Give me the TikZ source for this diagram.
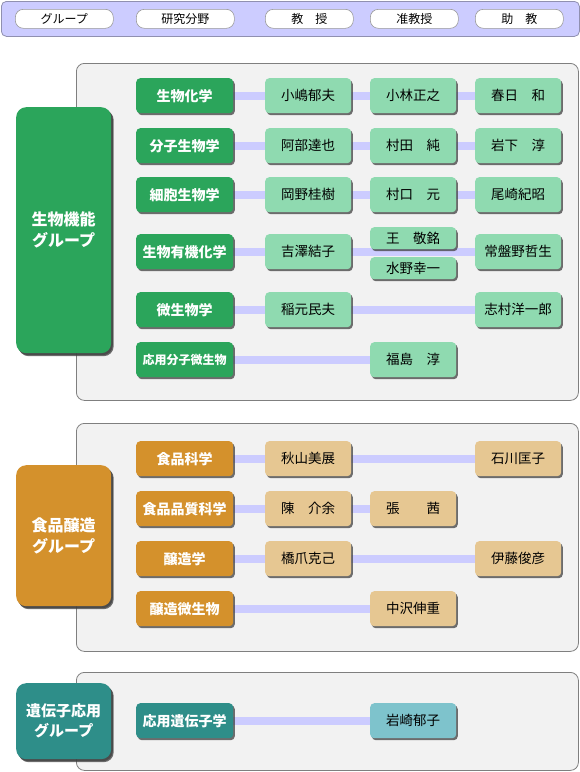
\documentclass[tikz,border=0pt]{standalone}
\usepackage{fontspec}
\setmainfont{Noto Sans CJK JP}
\usetikzlibrary{shadows}
\definecolor{gDark}{HTML}{2BA55B}
\definecolor{gLight}{HTML}{8FDAB0}
\definecolor{oDark}{HTML}{D4912C}
\definecolor{oLight}{HTML}{E6C792}
\definecolor{tDark}{HTML}{2E8E89}
\definecolor{tLight}{HTML}{7EC3CC}
\definecolor{connC}{HTML}{CCCCFF}
\definecolor{panelF}{HTML}{F2F2F2}
\definecolor{panelD}{HTML}{7F7F7F}
\definecolor{barF}{HTML}{CCCCFF}
\definecolor{barD}{HTML}{9090B0}
\pgfdeclarelayer{bg}
\pgfdeclarelayer{cn}
\pgfsetlayers{bg,cn,main}
\begin{document}
\begin{tikzpicture}[x=1pt,y=-1pt,
  box/.style={rounded corners=4pt, inner sep=0pt, anchor=north west,
    drop shadow={shadow xshift=1.6pt, shadow yshift=-2pt, opacity=0.75, fill=black!75}},
  fieldbox/.style={box, minimum width=97pt, minimum height=35pt, text=white,
    font=\fontsize{14}{16}\selectfont\bfseries},
  namebox/.style={box, minimum width=86pt, minimum height=35pt,
    font=\fontsize{13.5}{16}\selectfont},
  smallname/.style={namebox, minimum height=22pt},
  groupbox/.style={box, rounded corners=10pt, minimum width=95pt, text=white,
    align=center, font=\fontsize{16}{21}\selectfont\bfseries,
    drop shadow={shadow xshift=2.5pt, shadow yshift=-3pt, opacity=0.75, fill=black!75}},
  panel/.style={draw=panelD, fill=panelF, line width=0.8pt, rounded corners=8pt,
    anchor=north west, inner sep=0pt},
  pill/.style={draw=gray!80, fill=white, line width=0.6pt, rounded corners=8pt,
    anchor=north west, inner sep=0pt, minimum height=19pt,
    font=\fontsize{12}{14}\selectfont},
  conn/.style={draw=connC, line width=8pt},
  gF/.style={fieldbox, fill=gDark}, gN/.style={namebox, fill=gLight},
  oF/.style={fieldbox, fill=oDark}, oN/.style={namebox, fill=oLight},
  tF/.style={fieldbox, fill=tDark}, tN/.style={namebox, fill=tLight}
]
\useasboundingbox (0,0) rectangle (580,772);

% panels and background
\begin{pgfonlayer}{bg}
\fill[white] (0,0) rectangle (580,772);
\node[panel, minimum width=502pt, minimum height=337pt] (pan1) at (76,63) {};
\node[panel, minimum width=502pt, minimum height=228pt] (pan2) at (76,423) {};
\node[panel, minimum width=502pt, minimum height=98pt] (pan3) at (76,672) {};
\end{pgfonlayer}

% header
\node[draw=barD, fill=barF, line width=0.8pt, rounded corners=5pt, anchor=north west,
  inner sep=0pt, minimum width=578pt, minimum height=35pt] (bar) at (1,1) {};
\node[pill, minimum width=98pt] (h1) at (15,9) {グループ};
\node[pill, minimum width=98pt] (h2) at (136,9) {研究分野};
\node[pill, minimum width=88pt] (h3) at (265,9) {教　授};
\node[pill, minimum width=88pt] (h4) at (370,9) {准教授};
\node[pill, minimum width=88pt] (h5) at (475,9) {助　教};

% green group
\node[groupbox, fill=gDark, minimum height=246pt] (g1) at (16,107) {生物機能\\グループ};
\node[gF] (f11) at (136,78) {生物化学};
\node[gN] (p11) at (265,78) {小嶋郁夫};
\node[gN] (a11) at (370,78) {小林正之};
\node[gN] (s11) at (475,78) {春日　和};
\node[gF] (f12) at (136,128) {分子生物学};
\node[gN] (p12) at (265,128) {阿部達也};
\node[gN] (a12) at (370,128) {村田　純};
\node[gN] (s12) at (475,128) {岩下　淳};
\node[gF] (f13) at (136,177) {細胞生物学};
\node[gN] (p13) at (265,177) {岡野桂樹};
\node[gN] (a13) at (370,177) {村口　元};
\node[gN] (s13) at (475,177) {尾崎紀昭};
\node[gF] (f14) at (136,234) {生物有機化学};
\node[gN] (p14) at (265,234) {吉澤結子};
\node[smallname, fill=gLight] (a14) at (370,227) {王　敬銘};
\node[smallname, fill=gLight] (b14) at (370,257) {水野幸一};
\node[gN] (s14) at (475,234) {常盤野哲生};
\node[gF] (f15) at (136,292) {微生物学};
\node[gN] (p15) at (265,292) {稲元民夫};
\node[gN] (s15) at (475,292) {志村洋一郎};
\node[gF, font=\fontsize{12}{14}\selectfont\bfseries] (f16) at (136,342) {応用分子微生物};
\node[gN] (a16) at (370,342) {福島　淳};

% food group
\node[groupbox, fill=oDark, minimum height=141pt] (g2) at (16,465) {食品醸造\\グループ};
\node[oF] (f21) at (136,441) {食品科学};
\node[oN] (p21) at (265,441) {秋山美展};
\node[oN] (s21) at (475,441) {石川匡子};
\node[oF] (f22) at (136,491) {食品品質科学};
\node[oN] (p22) at (265,491) {陳　介余};
\node[oN] (a22) at (370,491) {張　　茜};
\node[oF] (f23) at (136,541) {醸造学};
\node[oN] (p23) at (265,541) {橋爪克己};
\node[oN] (s23) at (475,541) {伊藤俊彦};
\node[oF] (f24) at (136,591) {醸造微生物};
\node[oN] (a24) at (370,591) {中沢伸重};

% gene group
\node[groupbox, fill=tDark, minimum height=76pt, font=\fontsize{15}{20}\selectfont\bfseries] (g3) at (16,683) {遺伝子応用\\グループ};
\node[tF] (f31) at (136,703) {応用遺伝子学};
\node[tN] (a31) at (370,703) {岩崎郁子};

% connectors
\begin{pgfonlayer}{cn}
\draw[conn] (f11.east) -- (p11.west);
\draw[conn] (p11.east) -- (a11.west);
\draw[conn] (a11.east) -- (s11.west);
\draw[conn] (f12.east) -- (p12.west);
\draw[conn] (p12.east) -- (a12.west);
\draw[conn] (a12.east) -- (s12.west);
\draw[conn] (f13.east) -- (p13.west);
\draw[conn] (p13.east) -- (a13.west);
\draw[conn] (a13.east) -- (s13.west);
\draw[conn] (f14.east) -- (p14.west);
\draw[conn] (p14.east) -- (s14.west);
\draw[conn] (f15.east) -- (p15.west);
\draw[conn] (p15.east) -- (s15.west);
\draw[conn] (f16.east) -- (a16.west);
\draw[conn] (f21.east) -- (p21.west);
\draw[conn] (p21.east) -- (s21.west);
\draw[conn] (f22.east) -- (p22.west);
\draw[conn] (p22.east) -- (a22.west);
\draw[conn] (f23.east) -- (p23.west);
\draw[conn] (p23.east) -- (s23.west);
\draw[conn] (f24.east) -- (a24.west);
\draw[conn] (f31.east) -- (a31.west);
\end{pgfonlayer}
\end{tikzpicture}
\end{document}
